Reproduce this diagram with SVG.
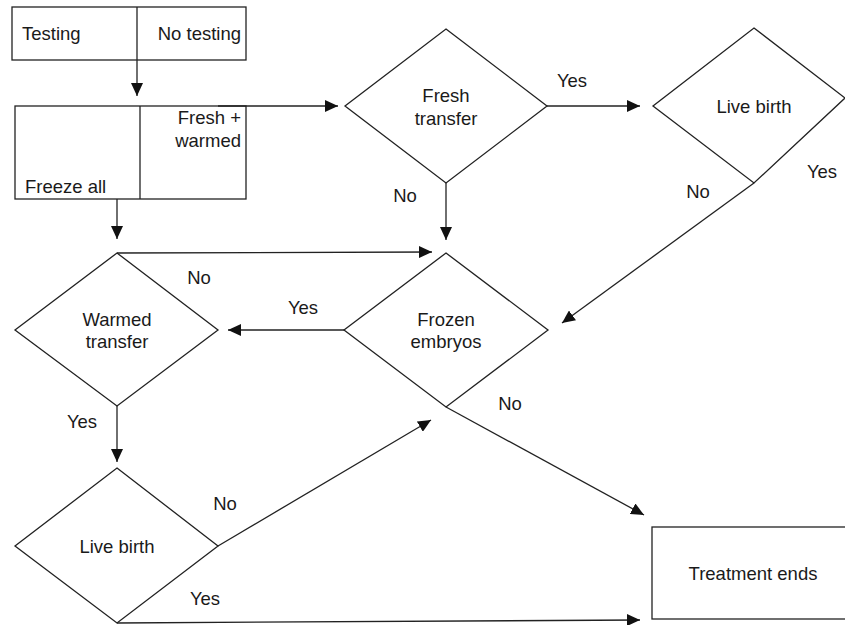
<svg xmlns="http://www.w3.org/2000/svg" width="845" height="625" viewBox="0 0 845 625">
<defs>
<marker id="ah" markerWidth="13" markerHeight="12" refX="13" refY="6" orient="auto" markerUnits="userSpaceOnUse">
<path d="M0,0 L13,6 L0,12 Z" fill="#111"/>
</marker>
<style>
.s{fill:#fff;stroke:#222;stroke-width:1.3}
.c{fill:none;stroke:#222;stroke-width:1.3;marker-end:url(#ah)}
text{font-family:"Liberation Sans",Arial,sans-serif;font-size:18.5px;fill:#1a1a1a}
.m{text-anchor:middle}
.e{text-anchor:end}
</style>
</defs>
<rect width="845" height="625" fill="#fff"/>
<g id="testing-box">
<rect class="s" x="12" y="7" width="234" height="53"/>
<line class="s" x1="137" y1="7" x2="137" y2="60"/>
<text x="22" y="40">Testing</text>
<text class="e" x="241" y="40">No testing</text>
</g>
<g id="strategy-box">
<rect class="s" x="15" y="106" width="231" height="93"/>
<line class="s" x1="140" y1="106" x2="140" y2="199"/>
<text class="e" x="241" y="124">Fresh +</text>
<text class="e" x="241" y="147">warmed</text>
<text x="25" y="193">Freeze all</text>
</g>
<g id="fresh-transfer">
<polygon class="s" points="446,29 547,106 446,183 345,106"/>
<text class="m" x="446" y="102">Fresh</text>
<text class="m" x="446" y="125">transfer</text>
</g>
<g id="live-birth-1">
<polygon class="s" points="754,28 845,98 754,183 653,106"/>
<text class="m" x="754" y="113">Live birth</text>
</g>
<g id="frozen-embryos">
<polygon class="s" points="446,253 548,330 446,407 344,330"/>
<text class="m" x="446" y="326">Frozen</text>
<text class="m" x="446" y="348">embryos</text>
</g>
<g id="warmed-transfer">
<polygon class="s" points="117,253 218,330 117,406 15,330"/>
<text class="m" x="117" y="326">Warmed</text>
<text class="m" x="117" y="348">transfer</text>
</g>
<g id="live-birth-2">
<polygon class="s" points="117,468 218,546 117,623 15,546"/>
<text class="m" x="117" y="553">Live birth</text>
</g>
<g id="treatment-ends">
<rect class="s" x="652" y="527" width="200" height="92"/>
<text class="m" x="753" y="580">Treatment ends</text>
</g>
<g id="connectors">
<line class="c" x1="137" y1="60" x2="137" y2="96"/>
<line class="c" x1="218" y1="106" x2="338" y2="106"/>
<line class="c" x1="117" y1="199" x2="117" y2="239"/>
<line class="c" x1="547" y1="106" x2="640" y2="106"/>
<line class="c" x1="446" y1="183" x2="446" y2="240"/>
<line class="c" x1="754" y1="183" x2="562" y2="323"/>
<line class="c" x1="117" y1="253" x2="432" y2="252"/>
<line class="c" x1="344" y1="330" x2="228" y2="330"/>
<line class="c" x1="117" y1="406" x2="117" y2="462"/>
<line class="c" x1="218" y1="546" x2="431" y2="420"/>
<line class="c" x1="446" y1="407" x2="644" y2="515"/>
<line class="c" x1="117" y1="623" x2="640" y2="620"/>
<text class="m" x="572" y="87">Yes</text>
<text class="m" x="405" y="202">No</text>
<text class="m" x="698" y="198">No</text>
<text class="m" x="822" y="178">Yes</text>
<text class="m" x="199" y="284">No</text>
<text class="m" x="303" y="314">Yes</text>
<text class="m" x="82" y="428">Yes</text>
<text class="m" x="510" y="410">No</text>
<text class="m" x="225" y="510">No</text>
<text class="m" x="205" y="605">Yes</text>
</g>
</svg>
